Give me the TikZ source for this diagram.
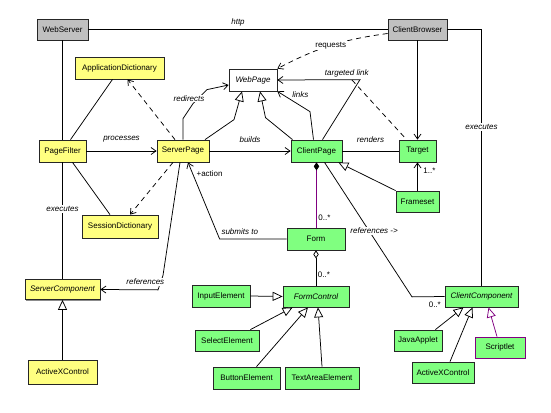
\documentclass[tikz,border=0pt]{standalone}
\usepackage{fontspec}
\setmainfont{Liberation Sans}
\usetikzlibrary{arrows.meta,shadows}
\definecolor{srvYellow}{RGB}{255,255,128}
\definecolor{cliGreen}{RGB}{128,255,128}
\definecolor{sysGray}{RGB}{192,192,192}
\definecolor{umlPurple}{RGB}{128,0,128}
\tikzset{
  txt/.style={font=\fontsize{8}{9}\selectfont,inner sep=1.5pt},
  lbl/.style={font=\fontsize{8}{9}\selectfont\itshape,inner sep=1.5pt},
  box/.style={draw=black!85,inner sep=0pt,font=\fontsize{8}{9}\selectfont,
    drop shadow={shadow xshift=1pt,shadow yshift=-1pt,fill=black!45,opacity=1}},
  srvbox/.style={box,fill=srvYellow},
  clibox/.style={box,fill=cliGreen},
  sysbox/.style={box,fill=sysGray},
  abs/.style={font=\fontsize{8}{9}\selectfont\itshape},
  opn/.style={-{Straight Barb[length=5pt,width=7pt]}},
  gen/.style={-{Triangle[fill=white,length=10pt,width=9pt]}},
  dsh/.style={dash pattern=on 5pt off 4pt}
}
\begin{document}
\begin{tikzpicture}[x=1pt,y=-1pt,line width=0.75pt]
\useasboundingbox (0,0) rectangle (551,412);
% Systeme
\node[sysbox,minimum width=51pt,minimum height=21pt] (webServer) at (62.5,29.5) {WebServer};
\node[sysbox,minimum width=59pt,minimum height=21pt] (clientBrowser) at (417.5,29.5) {ClientBrowser};
% Server
\node[srvbox,minimum width=89pt,minimum height=22pt] (appDict) at (119.5,68) {ApplicationDictionary};
\node[srvbox,minimum width=47pt,minimum height=22pt] (pageFilter) at (62.5,151) {PageFilter};
\node[srvbox,minimum width=52pt,minimum height=22pt] (serverPage) at (183,151) {ServerPage};
\node[srvbox,minimum width=76pt,minimum height=23pt] (sessionDict) at (120,226.5) {SessionDictionary};
\node[srvbox,abs,minimum width=75pt,minimum height=20pt] (serverComp) at (62.5,289.5) {ServerComponent};
\node[srvbox,minimum width=69pt,minimum height=24pt] (activeXL) at (62.5,372) {ActiveXControl};
% Client
\node[box,fill=white,abs,minimum width=48pt,minimum height=22pt] (webPage) at (253,80) {WebPage};
\node[clibox,minimum width=51pt,minimum height=22pt] (clientPage) at (316.5,151) {ClientPage};
\node[clibox,minimum width=37pt,minimum height=22pt] (target) at (417.5,151) {Target};
\node[clibox,minimum width=43pt,minimum height=21pt] (frameset) at (417.5,201.5) {Frameset};
\node[clibox,minimum width=58pt,minimum height=22pt] (form) at (316,239) {Form};
\node[clibox,minimum width=58pt,minimum height=22pt] (inputElem) at (221,296) {InputElement};
\node[clibox,abs,minimum width=66pt,minimum height=21pt] (formControl) at (316,296.5) {FormControl};
\node[clibox,abs,minimum width=73pt,minimum height=21pt] (clientComp) at (481.5,296.5) {ClientComponent};
\node[clibox,minimum width=64pt,minimum height=21pt] (selectElem) at (227,340.5) {SelectElement};
\node[clibox,minimum width=67pt,minimum height=22pt] (buttonElem) at (246.5,378) {ButtonElement};
\node[clibox,minimum width=74pt,minimum height=22pt] (textAreaElem) at (322,378) {TextAreaElement};
\node[clibox,minimum width=48pt,minimum height=21pt] (javaApplet) at (418,340.5) {JavaApplet};
\node[clibox,draw=umlPurple,minimum width=50pt,minimum height=21pt] (scriptlet) at (500,347.5) {Scriptlet};
\node[clibox,minimum width=62pt,minimum height=21pt] (activeXR) at (443,372.5) {ActiveXControl};
% oben
\draw (webServer.east) -- node[lbl,above=1.5pt] (lHttp) {http} (clientBrowser.west);
\draw (webServer.south) -- (pageFilter.north);
\draw (pageFilter.south) -- node[lbl,pos=0.4,fill=white] (lExecS) {executes} (serverComp.north);
\draw (clientBrowser.east) -| node[lbl,pos=0.69,fill=white] (lExecC) {executes} (clientComp.north);
\draw[opn] (clientBrowser.south) -- (target.north);
\draw[opn,dsh] ([yshift=-4pt]clientBrowser.west) to[bend right=10] node[txt,fill=white] (lReq) {requests} (webPage.north east);
% WebPage
\coordinate (linkMid) at (352,80);
\draw[opn] ([xshift=6pt]clientPage.north) -- ++(37.5,-60) -- node[lbl,pos=0.16,above=1pt] (lTarget) {targeted link} (webPage.east);
\draw[dsh] (linkMid) -- ([xshift=8pt]target.north west);
\draw[opn] ([xshift=-3pt]clientPage.north) -- ++(-3.5,-28) -- node[lbl,pos=0.6,anchor=south west] (lLinks) {links} (webPage.south east);
\draw[gen] ([xshift=-24pt]clientPage.north) -- ++(-27,-22) -- ([xshift=7pt]webPage.south);
\draw[gen] ([xshift=22pt]serverPage.north) -- ++(29,-20) -- ([xshift=-11pt]webPage.south);
\draw[opn] (serverPage.north) -- ++(0,-21) -- ++(10,-15) node[lbl,xshift=-4pt,yshift=5pt,fill=white,inner sep=0.5pt] (lRedir) {redirects} -- ++(14,-14) -- ([yshift=-5pt]webPage.west);
% Mitte
\draw[opn] (pageFilter.east) -- node[lbl,above=7pt] (lProc) {processes} (serverPage.west);
\draw[opn] (serverPage.east) -- node[lbl,above=7pt] (lBuilds) {builds} (clientPage.west);
\draw (clientPage.east) -- node[lbl,above=7pt] (lRenders) {renders} (target.west);
\draw ([xshift=8pt]pageFilter.north) -- ([xshift=-7pt]appDict.south);
\draw[opn,dsh] ([xshift=-8pt]serverPage.north) -- ([xshift=8pt]appDict.south);
\draw ([xshift=10pt]pageFilter.south) -- ([xshift=-10pt]sessionDict.north);
\draw[opn,dsh] ([xshift=-10pt]serverPage.south) -- ([xshift=10pt]sessionDict.north);
\draw[opn] ([xshift=-3pt]serverPage.south) -- ++(-17,113) -- ++(-5,14.5) -- node[lbl,pos=0.22,above=3pt,fill=white] (lRefS) {references} (serverComp.east);
\draw[opn] (form.west) -- node[lbl,pos=0.7,above=3pt] (lSubmit) {submits to} ++(-67,0) -- node[txt,pos=0.85,right=2pt] (lAction) {+action} ([xshift=5pt]serverPage.south);
% Form
\draw[umlPurple,{Diamond[color=black,length=8pt,width=5.5pt]}-] (clientPage.south) -- node[txt,pos=0.85,right,text=black] (mForm) {0..*} (clientPage.south |- form.north);
\draw[{Diamond[fill=white,length=8pt,width=5.5pt]}-] (form.south) -- node[txt,pos=0.7,right] (mCtrl) {0..*} (form.south |- formControl.north);
\draw[gen] (inputElem.east) -- (formControl.west);
\draw[gen] ([xshift=-9pt]selectElem.north east) -- ([xshift=10pt]formControl.south west);
\draw[gen] ([xshift=10pt]buttonElem.north) -- ([xshift=-8pt]formControl.south);
\draw[gen] (textAreaElem.north) -- ([xshift=2pt]formControl.south);
% rechts
\draw ([xshift=8pt]clientPage.south) -- node[lbl,pos=0.51,xshift=5pt,fill=white] (lRefC) {references ->} ++(87.5,134.5) -- node[txt,pos=0.7,below=3pt] (mComp) {0..*} (clientComp.west);
\draw[gen] (frameset.north west) -- ([xshift=-4pt]clientPage.south east);
\draw[opn] (frameset.north) -- node[txt,pos=0.7,right=4pt] (mTarget) {1..*} (target.south);
\draw[gen] ([xshift=-7pt]javaApplet.north east) -- ([xshift=-18pt]clientComp.south);
\draw[gen] ([xshift=7pt]activeXR.north) -- ([xshift=-9pt]clientComp.south);
\draw[gen,umlPurple] ([xshift=-3pt]scriptlet.north) -- ([xshift=7pt]clientComp.south);
\draw[gen] (activeXL.north) -- (serverComp.south);
\end{tikzpicture}
\end{document}
